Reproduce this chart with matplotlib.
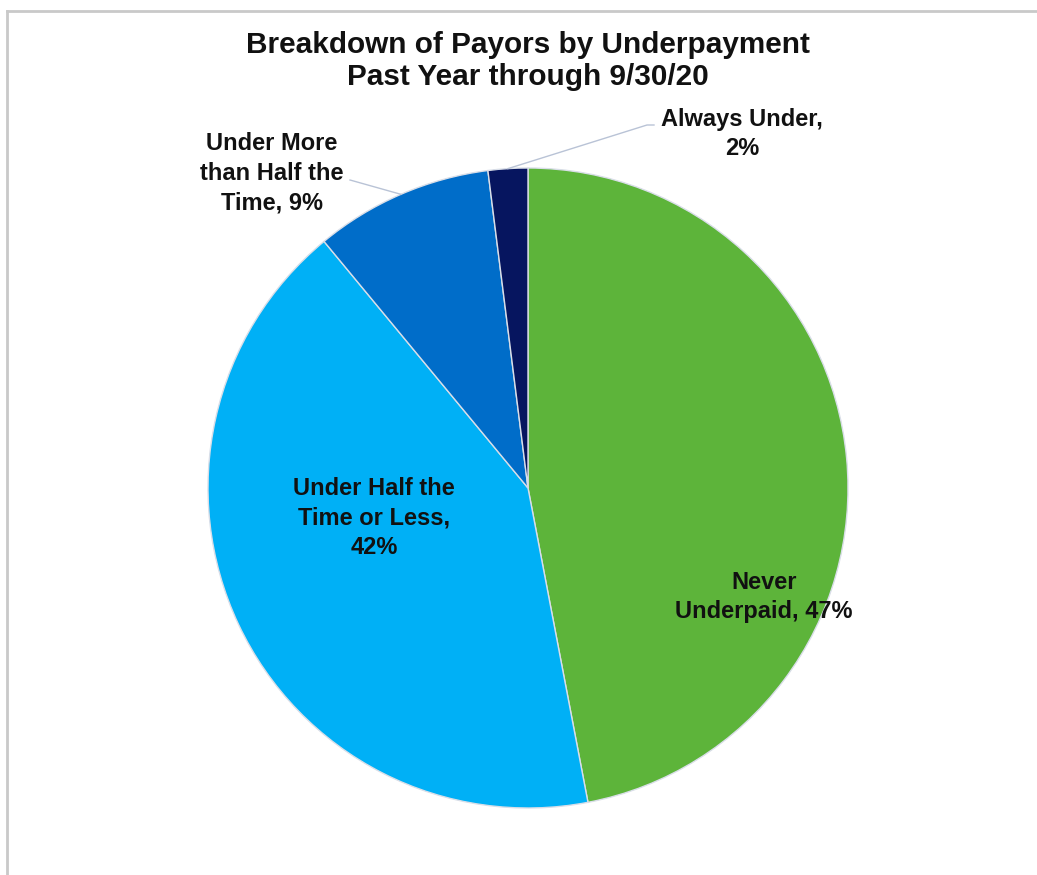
import matplotlib
matplotlib.use("Agg")
import matplotlib.pyplot as plt
from matplotlib.lines import Line2D
import numpy as np

categories = ["Never Underpaid", "Under Half the Time or Less",
              "Under More than Half the Time", "Always Under"]
shares = [47, 42, 9, 2]
colors = ["#5DB43A", "#00B0F6", "#006DC9", "#06155F"]
label_texts = ["Never\nUnderpaid, 47%", "Under Half the\nTime or Less,\n42%",
               "Under More\nthan Half the\nTime, 9%", "Always Under,\n2%"]

W, H = 1037, 875
fig = plt.figure(figsize=(W / 100, H / 100), dpi=100)
ax = fig.add_axes([0, 0, 1, 1])

font = "Liberation Sans"

def py(y):
    # pixel row measured from the top -> data y
    return H - y

cx, cy, R = 528, py(488), 320
wedges, _ = ax.pie(shares, colors=colors, startangle=90, counterclock=False,
                   center=(cx, cy), radius=R, frame=True,
                   wedgeprops=dict(edgecolor="#D9DEE8", linewidth=1.0))
ax.set_xlim(0, W)
ax.set_ylim(0, H)
ax.set_aspect("auto")
ax.axis("off")

# outer chart frame (left and top edges visible)
fig.add_artist(Line2D([7 / W, 7 / W], [0, 1 - 11 / H], transform=fig.transFigure,
                      color="#C9C9C9", lw=2))
fig.add_artist(Line2D([7 / W, 1], [1 - 11 / H, 1 - 11 / H], transform=fig.transFigure,
                      color="#C9C9C9", lw=2))

ax.text(528, py(61), "Breakdown of Payors by Underpayment\nPast Year through 9/30/20",
        ha="center", va="center", fontsize=21.4, fontweight="bold",
        family=font, linespacing=1.15, color="#111111")

lab_kw = dict(ha="center", va="center", fontsize=17, fontweight="bold",
              family=font, linespacing=1.38, color="#111111")
label_pos = [(764, 597), (374, 518), (272, 173), (742, 134)]
for txt, (lx, ly) in zip(label_texts, label_pos):
    ax.text(lx, py(ly), txt, **lab_kw)

# leader lines for the two small slices
leader_color = "#B9C3D6"
for i, pts in [(2, [(350, 180)]), (3, [(654, 125), (647, 125)])]:
    w = wedges[i]
    mid = np.deg2rad((w.theta1 + w.theta2) / 2)
    ex, ey = cx + R * np.cos(mid), cy + R * np.sin(mid)
    xs = [p[0] for p in pts] + [ex]
    ys = [py(p[1]) for p in pts] + [ey]
    ax.plot(xs, ys, color=leader_color, lw=1.0)

fig.savefig("out.png", dpi=100, facecolor="white")
